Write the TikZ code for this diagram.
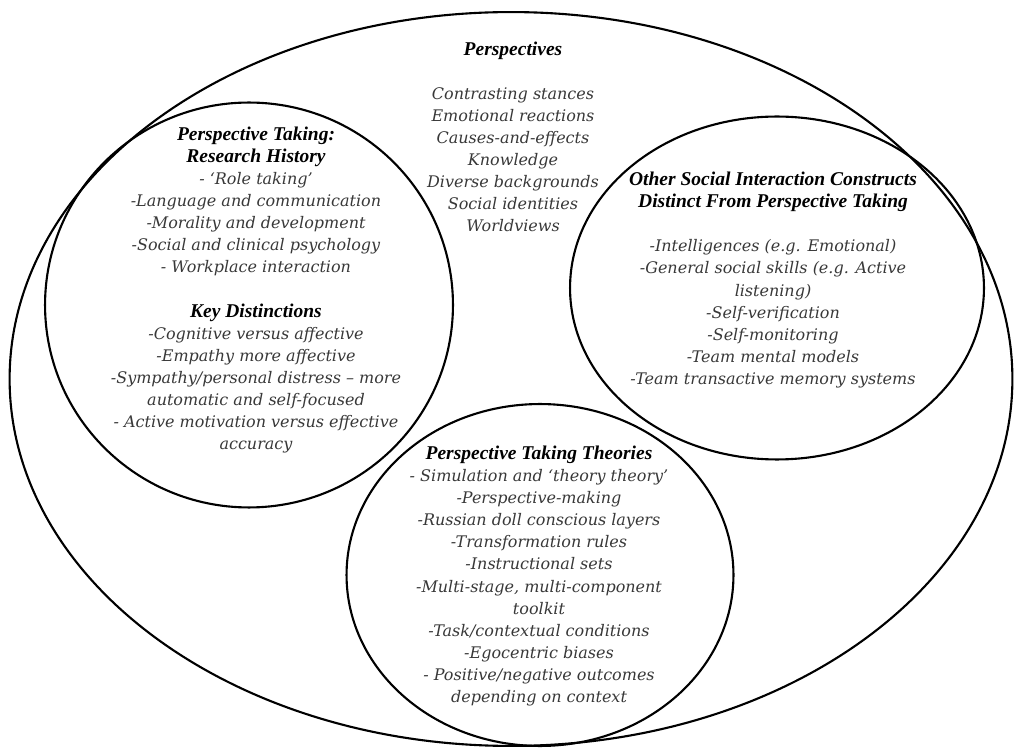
\documentclass[tikz,border=0pt]{standalone}
\usepackage{fontspec}
\setmainfont{DejaVu Serif}
\newfontfamily\headfont{Liberation Serif}
\usetikzlibrary{shapes.geometric}
\newcommand{\hd}[1]{{\headfont\bfseries\itshape\color{black}\fontsize{11.1}{12.5}\selectfont #1}}

\begin{document}
\begin{tikzpicture}[x=0.02cm, y=-0.02cm,
        ring/.style={ellipse, draw=black, line width=1.2pt, inner sep=0pt},
        items/.style={align=center, text=black!78, font=\itshape\fontsize{9.1}{12.55}\selectfont}
    ]
        \useasboundingbox (0,0) rectangle (1014,749);
        % the four rings
        \node[ring, minimum width=20.06cm, minimum height=14.68cm] (PERSP) at (511,379) {};
        \node[ring, minimum width=8.16cm, minimum height=8.1cm] (HIST) at (249,305) {};
        \node[ring, minimum width=8.28cm, minimum height=6.86cm] (OTHER) at (777,288) {};
        \node[ring, minimum width=7.74cm, minimum height=6.84cm] (THEORY) at (540,575) {};
        % texts
        \node[items] (PERSPTXT) at (513,137) {\hd{Perspectives}\\[12.55pt]
            Contrasting stances\\ Emotional reactions\\ Causes-and-effects\\ Knowledge\\
            Diverse backgrounds\\ Social identities\\ Worldviews};
        \node[items] (HISTTXT) at (256,290) {\hd{Perspective Taking:}\\ \hd{Research History}\\
            - `Role taking'\\ -Language and communication\\ -Morality and development\\
            -Social and clinical psychology\\ - Workplace interaction\\[12.55pt]
            \hd{Key Distinctions}\\ -Cognitive versus affective\\ -Empathy more affective\\
            -Sympathy/personal distress -- more\\ automatic and self-focused\\
            - Active motivation versus effective\\ accuracy};
        \node[items] (OTHERTXT) at (773,280) {\hd{Other Social Interaction Constructs}\\
            \hd{Distinct From Perspective Taking}\\[12.55pt]
            -Intelligences (e.g. Emotional)\\ -General social skills (e.g. Active\\ listening)\\
            -Self-verification\\ -Self-monitoring\\ -Team mental models\\
            -Team transactive memory systems};
        \node[items] (THEORYTXT) at (539,576) {\hd{Perspective Taking Theories}\\
            - Simulation and `theory theory'\\ -Perspective-making\\
            -Russian doll conscious layers\\ -Transformation rules\\ -Instructional sets\\
            -Multi-stage, multi-component\\ toolkit\\ -Task/contextual conditions\\
            -Egocentric biases\\ - Positive/negative outcomes\\ depending on context};
    \end{tikzpicture}
\end{document}
